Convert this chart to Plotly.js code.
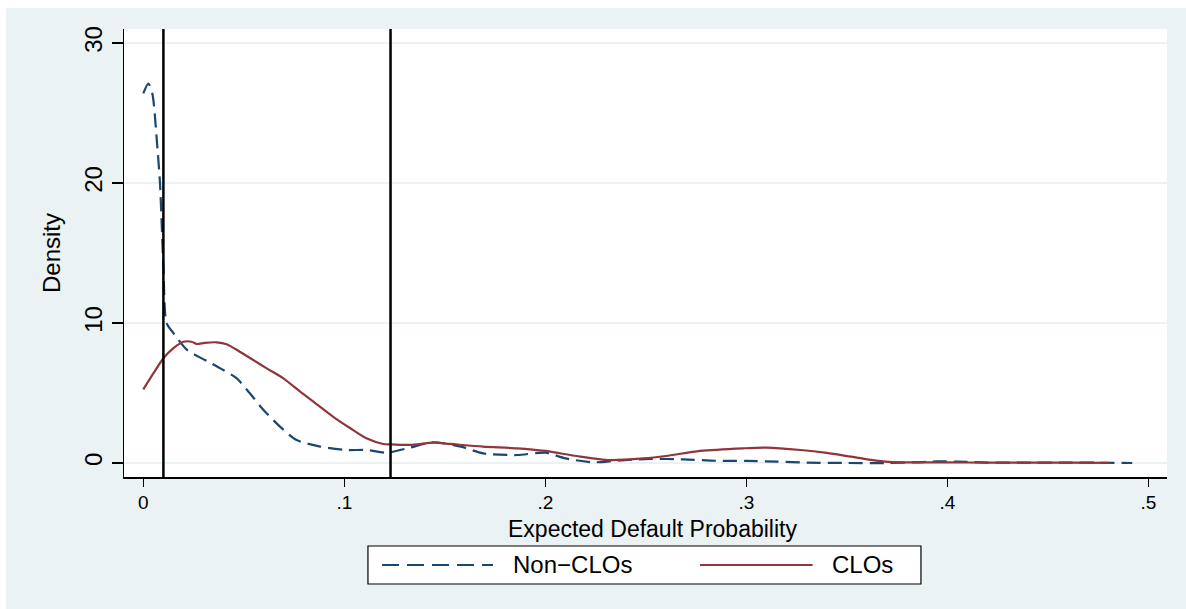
<!DOCTYPE html>
<html>
<head>
<meta charset="utf-8">
<script src="https://cdn.plot.ly/plotly-3.0.1.min.js"></script>
<style>
  html, body { margin: 0; padding: 0; background: #ffffff; }
  #chart { position: absolute; left: 6px; top: 8px; width: 1180px; height: 601px; }
</style>
</head>
<body>
<div id="chart"></div>
<script>
// ---- data ----
const seriesNames = ["Non\u2212CLOs", "CLOs"];
const xTitle = "Expected Default Probability";
const yTitle = "Density";

const nonCloX = [0, 0.0025, 0.0045, 0.0067, 0.0083, 0.0092, 0.010, 0.0116, 0.0149, 0.0216, 0.0274, 0.0332,
  0.0398, 0.0465, 0.053, 0.0597, 0.068, 0.0763, 0.088, 0.101, 0.111, 0.121, 0.1327, 0.144, 0.158,
  0.169, 0.186, 0.2, 0.21, 0.224, 0.2355, 0.252, 0.269, 0.285, 0.3, 0.315, 0.33, 0.35, 0.37, 0.385,
  0.395, 0.405, 0.42, 0.44, 0.46, 0.475, 0.492];
const nonCloY = [26.4, 27.1, 26.4, 23.1, 20.0, 16.9, 14.0, 10.0, 9.3, 8.1, 7.6, 7.17,
  6.64, 6.05, 4.98, 3.8, 2.6, 1.64, 1.17, 0.93, 0.93, 0.74, 1.1, 1.48, 1.17,
  0.69, 0.57, 0.74, 0.33, 0.05, 0.17, 0.29, 0.26, 0.16, 0.15, 0.1, 0.03, 0.0, 0.0, 0.05,
  0.12, 0.1, 0.03, 0.02, 0.03, 0.02, 0.0];

const cloX = [0, 0.005, 0.01, 0.015, 0.02, 0.024, 0.0266, 0.0305, 0.0365, 0.0415, 0.048, 0.0547,
  0.0614, 0.0697, 0.078, 0.0846, 0.0945, 0.1028, 0.111, 0.1194, 0.1227, 0.1327, 0.1443, 0.1526,
  0.169, 0.186, 0.2, 0.2156, 0.232, 0.2488, 0.26, 0.277, 0.2985, 0.31, 0.327, 0.34, 0.352, 0.362,
  0.371, 0.385, 0.40, 0.42, 0.44, 0.46, 0.481];
const cloY = [5.26, 6.4, 7.48, 8.2, 8.66, 8.66, 8.5, 8.58, 8.62, 8.48, 7.95, 7.36,
  6.76, 6.05, 5.1, 4.38, 3.3, 2.5, 1.76, 1.36, 1.33, 1.29, 1.45, 1.36,
  1.17, 1.05, 0.86, 0.5, 0.21, 0.33, 0.5, 0.86, 1.05, 1.1, 0.93, 0.72, 0.45, 0.22,
  0.08, 0.04, 0.04, 0.03, 0.02, 0.02, 0.01];

const refLines = [0.01, 0.123];

const xTickVals = [0, 0.1, 0.2, 0.3, 0.4, 0.5];
const xTickText = ["0", ".1", ".2", ".3", ".4", ".5"];
const yTickVals = [0, 10, 20, 30];
const yTickText = ["0", "10", "20", "30"];

// ---- styling ----
const NAVY = "#1a476f";
const MAROON = "#90353b";
const BG = "#eaf2f3";
const FONT = "Liberation Sans, Arial, Helvetica, sans-serif";

const traces = [
  { x: nonCloX, y: nonCloY, name: seriesNames[0], type: "scatter", mode: "lines",
    line: { color: NAVY, width: 2.2, dash: "14px,7px", shape: "spline", smoothing: 0.7 } },
  { x: cloX, y: cloY, name: seriesNames[1], type: "scatter", mode: "lines",
    line: { color: MAROON, width: 2.2, shape: "spline", smoothing: 0.7 } }
];

const shapes = refLines.map(v => ({
  type: "line", xref: "x", yref: "paper", x0: v, x1: v, y0: 0, y1: 1,
  line: { color: "#000000", width: 2.5 }
}));

// manual Stata-style legend (paper coordinates)
const legY = -0.1964;
shapes.push({ type: "rect", xref: "paper", yref: "paper", x0: 0.2339, x1: 0.7641, y0: -0.2388, y1: -0.154,
  line: { color: "#000000", width: 1.2 }, fillcolor: "#ffffff" });
shapes.push({ type: "line", xref: "paper", yref: "paper", x0: 0.2474, x1: 0.3538, y0: legY, y1: legY,
  line: { color: NAVY, width: 2, dash: "17px,8px" } });
shapes.push({ type: "line", xref: "paper", yref: "paper", x0: 0.5523, x1: 0.6602, y0: legY, y1: legY,
  line: { color: MAROON, width: 2 } });

const annotations = [
  { xref: "paper", yref: "paper", x: 0.371, y: legY, xanchor: "left", yanchor: "middle",
    text: seriesNames[0], showarrow: false, font: { family: FONT, size: 24, color: "#000000" } },
  { xref: "paper", yref: "paper", x: 0.6766, y: legY, xanchor: "left", yanchor: "middle",
    text: seriesNames[1], showarrow: false, font: { family: FONT, size: 24, color: "#000000" } },
  // x-axis title placed as in the reference
  { xref: "paper", yref: "paper", x: 0.507, y: -0.116, xanchor: "center", yanchor: "middle",
    text: xTitle, showarrow: false, font: { family: FONT, size: 23, color: "#000000" } }
];

const layout = {
  width: 1180, height: 601,
  margin: { l: 118, r: 19, t: 21, b: 132, pad: 0 },
  paper_bgcolor: BG,
  plot_bgcolor: "#ffffff",
  showlegend: false,
  font: { family: FONT, color: "#000000" },
  xaxis: {
    range: [-0.0096, 0.5093], tickvals: xTickVals, ticktext: xTickText,
    ticks: "outside", ticklen: 8, tickwidth: 1.5, tickcolor: "#000000",
    showline: true, linecolor: "#000000", linewidth: 1.5,
    showgrid: false, zeroline: false,
    tickfont: { family: FONT, size: 19, color: "#000000" },
    automargin: false
  },
  yaxis: {
    range: [-1, 31], tickvals: yTickVals, ticktext: yTickText, tickangle: -90,
    ticks: "outside", ticklen: 11, tickwidth: 1.5, tickcolor: "#000000",
    showline: true, linecolor: "#000000", linewidth: 1.5,
    showgrid: true, gridcolor: BG, gridwidth: 1.5, zeroline: false,
    tickfont: { family: FONT, size: 24, color: "#000000" },
    title: { text: yTitle, font: { family: FONT, size: 24, color: "#000000" }, standoff: 12 },
    automargin: false
  },
  shapes: shapes,
  annotations: annotations
};

Plotly.newPlot("chart", traces, layout, { staticPlot: true, displayModeBar: false });
</script>
</body>
</html>
